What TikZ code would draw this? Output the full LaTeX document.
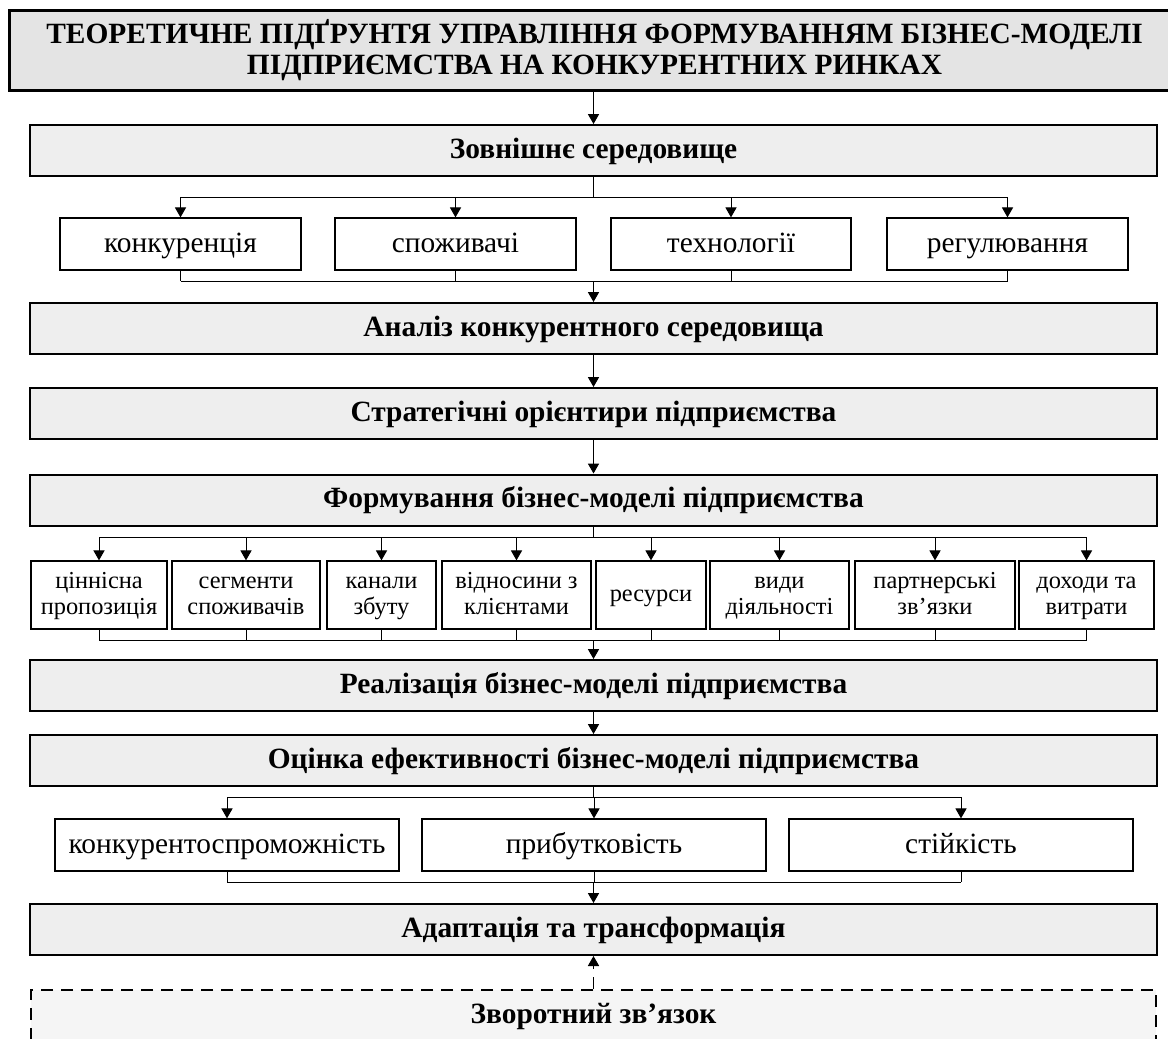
\documentclass[tikz,border=0pt]{standalone}
\usepackage{fontspec}
\setmainfont{Liberation Serif}
\usetikzlibrary{arrows.meta,calc}
\definecolor{titlefill}{HTML}{E4E4E4}
\definecolor{mainfill}{HTML}{EEEEEE}
\definecolor{fbfill}{HTML}{F5F5F5}
\newcommand{\mystrut}{\rule[-3pt]{0pt}{12pt}}
\begin{document}
\begin{tikzpicture}[x=0.5pt,y=-0.5pt,
  titlebox/.style={draw, line width=1.5pt, fill=titlefill, minimum width=585.5pt, minimum height=40pt, align=center, inner sep=0pt, font=\bfseries\fontsize{14.7pt}{15.5pt}\selectfont},
  mainbox/.style={draw, line width=1pt, fill=mainfill, minimum width=563.5pt, minimum height=25.5pt, inner sep=0pt, text height=10.5pt, text depth=3pt, font=\bfseries\fontsize{14.7pt}{17pt}\selectfont},
  fbbox/.style={draw, line width=1pt, dash pattern=on 6pt off 4pt, fill=fbfill, minimum width=562.5pt, minimum height=26pt, inner sep=0pt, text height=10pt, text depth=3pt, font=\bfseries\fontsize{14.7pt}{17pt}\selectfont},
  subbox/.style={draw, line width=0.65pt, fill=white, minimum height=26pt, inner sep=0pt, align=center, text height=11pt, text depth=3pt, font=\fontsize{14.7pt}{17pt}\selectfont},
  subboxtall/.style={draw, line width=0.65pt, fill=white, minimum height=34pt, inner sep=0pt, align=center, font=\fontsize{12.2pt}{13pt}\selectfont},
  conn/.style={line width=0.5pt},
  arr/.style={conn, -{Triangle[length=5pt,width=5.6pt]}},
  dasharr/.style={arr, dash pattern=on 6pt off 4pt}
]
\useasboundingbox (0,0) rectangle (1168,1039);

% main column
\node[titlebox] (title) at (594.5,50) {ТЕОРЕТИЧНЕ ПІДҐРУНТЯ УПРАВЛІННЯ ФОРМУВАННЯМ БІЗНЕС-МОДЕЛІ\\ПІДПРИЄМСТВА НА КОНКУРЕНТНИХ РИНКАХ};
\node[mainbox] (env) at (593.5,150.5) {Зовнішнє середовище};
\node[mainbox] (an) at (593.5,328.5) {Аналіз конкурентного середовища};
\node[mainbox] (st) at (593.5,413.5) {Стратегічні орієнтири підприємства};
\node[mainbox] (fm) at (593.5,500) {Формування бізнес-моделі підприємства};
\node[mainbox] (re) at (593.5,685.5) {Реалізація бізнес-моделі підприємства};
\node[mainbox] (ev) at (593.5,760.5) {Оцінка ефективності бізнес-моделі підприємства};
\node[mainbox] (ad) at (593.5,929.5) {Адаптація та трансформація};
\node[fbbox] (fb) at (593.5,1016) {Зворотний зв’язок};

% row 1
\node[subbox, minimum width=120.5pt] (k1) at (180.5,244) {конкуренція};
\node[subbox, minimum width=120.5pt] (k2) at (455.5,244) {споживачі};
\node[subbox, minimum width=120pt] (k3) at (731,244) {технології};
\node[subbox, minimum width=120.5pt] (k4) at (1007.5,244) {регулювання};

% row 2
\node[subboxtall, minimum width=68pt] (m1) at (99,595) {\mystrut ціннісна\\\mystrut пропозиція};
\node[subboxtall, minimum width=74pt] (m2) at (246,595) {\mystrut сегменти\\\mystrut споживачів};
\node[subboxtall, minimum width=54.5pt] (m3) at (381.5,595) {\mystrut канали\\\mystrut збуту};
\node[subboxtall, minimum width=74.5pt] (m4) at (516.5,595) {\mystrut відносини з\\\mystrut клієнтами};
\node[subboxtall, minimum width=55pt] (m5) at (651,595) {\mystrut ресурси};
\node[subboxtall, minimum width=69.5pt] (m6) at (779.5,595) {\mystrut види\\\mystrut діяльності};
\node[subboxtall, minimum width=80pt] (m7) at (935,595) {\mystrut партнерські\\\mystrut зв’язки};
\node[subboxtall, minimum width=67.5pt] (m8) at (1086.5,595) {\mystrut доходи та\\\mystrut витрати};

% row 3
\node[subbox, minimum width=172pt] (e1) at (227,845) {конкурентоспроможність};
\node[subbox, minimum width=172pt] (e2) at (594,845) {прибутковість};
\node[subbox, minimum width=172pt] (e3) at (961,845) {стійкість};

% branch / collect points
\coordinate (b1) at (593.5,197);
\coordinate (c1) at (593.5,281);
\coordinate (b2) at (593.5,537);
\coordinate (c2) at (593.5,640);
\coordinate (b3) at (593.5,797);
\coordinate (c3) at (593.5,882);

% connectors
\draw[arr] (env.north |- title.south) -- (env.north);

\draw[conn] (env.south) -- (b1);
\draw[conn] (b1 -| k1.north) -- (b1 -| k4.north);
\foreach \n in {k1,k2,k3,k4} {
  \draw[arr] (b1 -| \n.north) -- (\n.north);
  \draw[conn] (\n.south) -- (c1 -| \n.south);
}
\draw[conn] (c1 -| k1.south) -- (c1 -| k4.south);
\draw[arr] (c1) -- (an.north);

\draw[arr] (an.south) -- (st.north);
\draw[arr] (st.south) -- (fm.north);

\draw[conn] (fm.south) -- (b2);
\draw[conn] (b2 -| m1.north) -- (b2 -| m8.north);
\foreach \n in {m1,m2,m3,m4,m5,m6,m7,m8} {
  \draw[arr] (b2 -| \n.north) -- (\n.north);
  \draw[conn] (\n.south) -- (c2 -| \n.south);
}
\draw[conn] (c2 -| m1.south) -- (c2 -| m8.south);
\draw[arr] (c2) -- (re.north);

\draw[arr] (re.south) -- (ev.north);

\draw[conn] (ev.south) -- (b3);
\draw[conn] (b3 -| e1.north) -- (b3 -| e3.north);
\foreach \n in {e1,e2,e3} {
  \draw[arr] (b3 -| \n.north) -- (\n.north);
  \draw[conn] (\n.south) -- (c3 -| \n.south);
}
\draw[conn] (c3 -| e1.south) -- (c3 -| e3.south);
\draw[arr] (c3) -- (ad.north);

\draw[dasharr] (fb.north) -- (ad.south);
\end{tikzpicture}
\end{document}
